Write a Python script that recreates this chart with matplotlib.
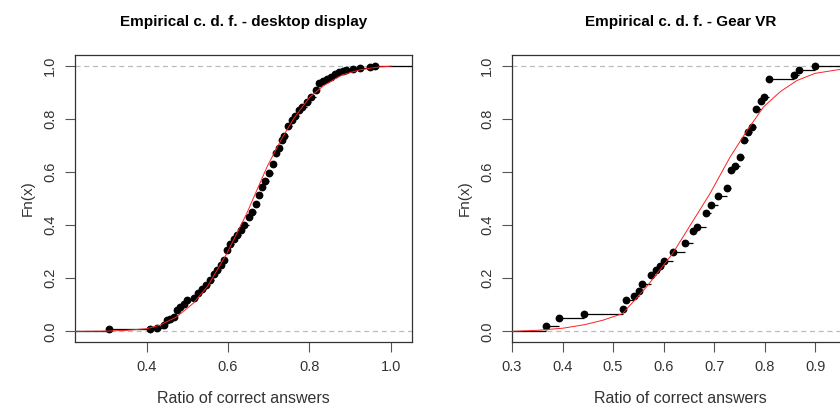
import matplotlib
matplotlib.use("Agg")
import matplotlib.pyplot as plt

plt.rcParams['font.family'] = ['Liberation Sans', 'DejaVu Sans']

# desktop display: ecdf points
desk_x = [0.308, 0.408, 0.425, 0.443, 0.449, 0.457, 0.467, 0.474, 0.482, 0.492,
          0.500, 0.516, 0.527, 0.535, 0.545, 0.556, 0.565, 0.573, 0.582, 0.590,
          0.598, 0.606, 0.615, 0.623, 0.631, 0.640, 0.652, 0.658, 0.668, 0.676,
          0.683, 0.691, 0.700, 0.710, 0.718, 0.725, 0.733, 0.737, 0.748, 0.756,
          0.764, 0.774, 0.782, 0.795, 0.803, 0.816, 0.824, 0.834, 0.842, 0.852,
          0.863, 0.873, 0.883, 0.891, 0.908, 0.924, 0.949, 0.962]
desk_y = [0.009, 0.010, 0.013, 0.023, 0.041, 0.048, 0.054, 0.082, 0.092, 0.104,
          0.117, 0.126, 0.144, 0.161, 0.176, 0.195, 0.217, 0.230, 0.249, 0.268,
          0.305, 0.327, 0.346, 0.362, 0.383, 0.400, 0.431, 0.450, 0.481, 0.515,
          0.544, 0.567, 0.597, 0.629, 0.670, 0.689, 0.720, 0.735, 0.773, 0.795,
          0.810, 0.833, 0.843, 0.864, 0.883, 0.908, 0.936, 0.942, 0.949, 0.959,
          0.968, 0.975, 0.981, 0.984, 0.988, 0.990, 0.995, 1.000]

# fitted normal c.d.f. (red)
desk_fit_x = [0.224, 0.30, 0.35, 0.40, 0.432, 0.473, 0.514, 0.55, 0.597, 0.646,
              0.696, 0.73, 0.761, 0.80, 0.835, 0.88, 0.926, 0.97, 1.0]
desk_fit_y = [0.000, 0.001, 0.004, 0.010, 0.023, 0.054, 0.105, 0.17, 0.293, 0.444,
              0.620, 0.72, 0.800, 0.88, 0.925, 0.965, 0.985, 0.995, 0.998]

# Gear VR
vr_x = [0.368, 0.393, 0.443, 0.519, 0.525, 0.542, 0.551, 0.558, 0.576, 0.585,
        0.593, 0.600, 0.618, 0.642, 0.658, 0.667, 0.684, 0.693, 0.708, 0.726,
        0.733, 0.742, 0.751, 0.760, 0.767, 0.775, 0.783, 0.792, 0.798, 0.809,
        0.858, 0.868, 0.900]
vr_y = [0.019, 0.050, 0.067, 0.084, 0.117, 0.133, 0.151, 0.180, 0.214, 0.230,
        0.246, 0.264, 0.297, 0.331, 0.377, 0.393, 0.444, 0.476, 0.510, 0.540,
        0.607, 0.623, 0.656, 0.720, 0.751, 0.768, 0.837, 0.868, 0.882, 0.949,
        0.966, 0.983, 1.000]

vr_fit_x = [0.30, 0.35, 0.401, 0.443, 0.48, 0.519, 0.566, 0.618, 0.659, 0.692,
            0.732, 0.765, 0.798, 0.831, 0.864, 0.90, 0.95, 0.967]
vr_fit_y = [0.000, 0.004, 0.012, 0.025, 0.042, 0.067, 0.167, 0.293, 0.418, 0.519,
            0.657, 0.755, 0.845, 0.902, 0.944, 0.971, 0.986, 0.989]

titles = ["Empirical c. d. f. - desktop display", "Empirical c. d. f. - Gear VR"]
xlims = [(0.224, 1.052), (0.30, 0.967)]
xticks = [[0.4, 0.6, 0.8, 1.0], [0.3, 0.4, 0.5, 0.6, 0.7, 0.8, 0.9]]

fig = plt.figure(figsize=(8.4, 4.09), dpi=100)
ax1 = fig.add_axes([0.0893, 0.1638, 0.4012, 0.7017])
ax2 = fig.add_axes([0.6095, 0.1638, 0.4012, 0.7017])

panels = [(ax1, desk_x, desk_y, desk_fit_x, desk_fit_y),
          (ax2, vr_x, vr_y, vr_fit_x, vr_fit_y)]

for i, (ax, xs, ys, fx, fy) in enumerate(panels):
    lo, hi = xlims[i]
    ax.set_xlim(lo, hi)
    ax.set_ylim(-0.04, 1.04)
    ax.axhline(0, color='#bbbbbb', lw=0.9, ls=(0, (4, 3)), zorder=1)
    ax.axhline(1, color='#bbbbbb', lw=0.9, ls=(0, (4, 3)), zorder=1)
    # step segments
    ax.hlines(ys[:-1], xs[:-1], xs[1:], color='black', lw=0.9, zorder=2)
    ax.hlines([0], [lo], [xs[0]], color='black', lw=0.9, zorder=2)
    ax.hlines([1], [xs[-1]], [hi], color='black', lw=0.9, zorder=2)
    ax.plot(xs, ys, 'o', color='black', ms=4.6, zorder=3)
    ax.plot(fx, fy, color='#ff2020', lw=0.7, zorder=4)

    ax.set_xticks(xticks[i])
    ax.set_xticklabels([f"{t:.1f}" for t in xticks[i]])
    ax.set_yticks([0, 0.2, 0.4, 0.6, 0.8, 1.0])
    ax.set_yticklabels(["0.0", "0.2", "0.4", "0.6", "0.8", "1.0"],
                       rotation=90, va='center')
    ax.tick_params(direction='out', length=7, width=0.8, colors='#555555',
                   labelcolor='#333333', labelsize=10.5, pad=6)
    for s in ax.spines.values():
        s.set_color('#333333')
        s.set_linewidth(0.9)
    ax.set_title(titles[i], fontsize=11, fontweight='bold', pad=21)
    ax.set_xlabel("Ratio of correct answers", fontsize=11.5, color='#333333', labelpad=12)
    ax.set_ylabel("Fn(x)", fontsize=11, color='#333333', labelpad=6)

fig.savefig("out.png", dpi=100)
